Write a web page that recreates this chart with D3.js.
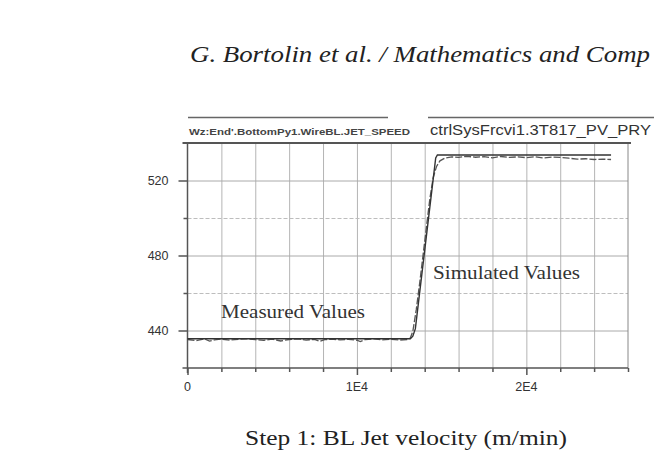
<!DOCTYPE html>
<html>
<head>
<meta charset="utf-8">
<script src="https://cdn.jsdelivr.net/npm/d3@7"></script>
<style>
  body { margin: 0; background: #fff; }
  svg { display: block; }
</style>
</head>
<body>
<div id="chart"></div>
<script>
const WIDTH = 654;
const HEIGHT = 469;
const MARGIN = { top: 143, left: 187.5, right: 26, bottom: 101 };
const PLOT_W = WIDTH - MARGIN.left - MARGIN.right;
const PLOT_H = HEIGHT - MARGIN.top - MARGIN.bottom;

const X_DOMAIN = [0, 26000];
const Y_DOMAIN = [420, 540];
const X_GRID = d3.range(0, 26001, 2000);
const X_LABELS = [0, 10000, 20000];
const X_TICK_TEXT = ['0', '1E4', '2E4'];
const Y_GRID = [440, 460, 480, 500, 520];
const Y_LABELS = [440, 480, 520];

const PAGE_HEADER = 'G. Bortolin et al. / Mathematics and Comp';
const SERIES_NAMES = ["Wz:End'.BottomPy1.WireBL.JET_SPEED", 'ctrlSysFrcvi1.3T817_PV_PRY'];
const CAPTION = 'Step 1: BL Jet velocity (m/min)';

// simulated (solid) trace
const SIM_T = [0, 13150, 13300, 13450, 14650, 14750, 25000];
const SIM_V = [435.6, 435.6, 437, 441, 532, 533.6, 533.6];

// measured (dashed) trace
const MEAS_T = [0, 500, 1000, 1300, 1600, 2000, 2500, 3000, 3500, 4000, 4500, 5000, 5500,
  6000, 6500, 7000, 7500, 7800, 8100, 8500, 9000, 9500, 10000, 10200, 10500, 11000, 11500,
  12000, 12500, 13000, 13150, 13300, 13500, 13700, 13900, 14100, 14300, 14500, 14700, 14900,
  15200, 15600, 16000, 16500, 17000, 17500, 18000, 18500, 19000, 19500, 20000, 20500, 21000,
  21500, 22000, 22500, 23000, 23500, 24000, 24500, 25000];
const MEAS_V = [435.2, 434.6, 435.5, 434.3, 435.0, 435.4, 434.9, 435.3, 435.6, 435.1, 434.7, 435.4, 434.4,
  435.2, 435.5, 434.9, 435.3, 434.2, 435.1, 435.4, 435.0, 435.3, 434.8, 434.1, 435.2, 435.5, 435.0,
  435.3, 434.9, 435.2, 436.0, 439.5, 451, 465, 480, 495, 510, 521.5, 527.5, 530.5,
  532.0, 532.6, 532.3, 532.9, 532.4, 532.7, 532.1, 532.8, 532.3, 532.6, 532.2, 532.7, 532.0,
  532.5, 532.3, 531.9, 531.4, 531.6, 531.2, 531.4, 531.2];

const SANS = 'Liberation Sans, Arial, sans-serif';
const SERIF = 'Liberation Serif, DejaVu Serif, serif';

const svg = d3.select('#chart')
  .append('svg')
    .attr('width', WIDTH)
    .attr('height', HEIGHT);

svg.append('rect').attr('width', WIDTH).attr('height', HEIGHT).attr('fill', '#fff');

// page running header
svg.append('text')
  .attr('x', 190)
  .attr('y', 62)
  .attr('font-family', SERIF)
  .attr('font-style', 'italic')
  .attr('font-size', 23.5)
  .attr('fill', '#222')
  .attr('textLength', 460)
  .attr('lengthAdjust', 'spacingAndGlyphs')
  .text(PAGE_HEADER);

// series name headers
svg.append('line').attr('x1', 188).attr('x2', 388).attr('y1', 117.5).attr('y2', 117.5)
  .attr('stroke', '#666').attr('stroke-width', 1.5);
svg.append('line').attr('x1', 428).attr('x2', 654).attr('y1', 117.5).attr('y2', 117.5)
  .attr('stroke', '#666').attr('stroke-width', 1.5);

svg.append('text')
  .attr('x', 189)
  .attr('y', 134.5)
  .attr('font-family', SANS)
  .attr('font-size', 9.5)
  .attr('font-weight', 'bold')
  .attr('fill', '#444')
  .attr('textLength', 221)
  .attr('lengthAdjust', 'spacingAndGlyphs')
  .text(SERIES_NAMES[0]);

svg.append('text')
  .attr('x', 430)
  .attr('y', 135)
  .attr('font-family', SANS)
  .attr('font-size', 14)
  .attr('fill', '#333')
  .attr('textLength', 221)
  .attr('lengthAdjust', 'spacingAndGlyphs')
  .text(SERIES_NAMES[1]);

const g = svg.append('g')
  .attr('transform', `translate(${MARGIN.left}, ${MARGIN.top})`);

const x = d3.scaleLinear().domain(X_DOMAIN).range([0, PLOT_W]);
const y = d3.scaleLinear().domain(Y_DOMAIN).range([PLOT_H, 0]);

// grid
const xGrid = g.append('g')
  .attr('class', 'x-grid')
  .attr('transform', `translate(0, ${PLOT_H})`)
  .call(d3.axisBottom(x).tickValues(X_GRID.slice(1, -1)).tickSize(-PLOT_H).tickFormat(''));
xGrid.select('.domain').remove();
xGrid.selectAll('.tick line')
  .attr('stroke', '#b4b4b4')
  .attr('stroke-width', 1);

const yGrid = g.append('g')
  .attr('class', 'y-grid')
  .call(d3.axisLeft(y).tickValues(Y_GRID).tickSize(-PLOT_W).tickFormat(''));
yGrid.select('.domain').remove();
yGrid.selectAll('.tick line')
  .attr('stroke', d => Y_LABELS.includes(d) ? '#aaaaaa' : '#bdbdbd')
  .attr('stroke-dasharray', d => Y_LABELS.includes(d) ? null : '4,2')
  .attr('stroke-width', 1);

// frame
g.append('line').attr('x1', PLOT_W).attr('x2', PLOT_W).attr('y1', 0).attr('y2', PLOT_H)
  .attr('stroke', '#888').attr('stroke-width', 1);
g.append('line').attr('x1', -5).attr('x2', PLOT_W + 3).attr('y1', 0).attr('y2', 0)
  .attr('stroke', '#555').attr('stroke-width', 2);

// axes
const xAxis = g.append('g')
  .attr('class', 'x-axis')
  .attr('transform', `translate(0, ${PLOT_H})`)
  .call(d3.axisBottom(x).tickValues(X_GRID).tickSize(4).tickFormat(''));
xAxis.selectAll('.tick line')
  .attr('y2', d => X_LABELS.includes(d) ? 7 : 4);
xAxis.select('.domain').attr('d', `M-5,0H${PLOT_W}`);

xAxis.selectAll('.lbl')
  .data(X_LABELS)
  .enter().append('text')
    .attr('class', 'lbl')
    .attr('x', d => x(d))
    .attr('y', 23)
    .attr('text-anchor', 'middle')
    .attr('font-family', SANS)
    .attr('font-size', 12.5)
    .attr('fill', '#333')
    .text((d, i) => X_TICK_TEXT[i]);

const yAxis = g.append('g')
  .attr('class', 'y-axis')
  .call(d3.axisLeft(y).tickValues(Y_GRID).tickSize(5).tickFormat(d => Y_LABELS.includes(d) ? d : ''));
yAxis.selectAll('.tick line')
  .attr('x2', d => Y_LABELS.includes(d) ? -9 : -4);
yAxis.selectAll('.tick text')
  .attr('x', -19)
  .attr('font-family', SANS)
  .attr('font-size', 12.5)
  .attr('fill', '#333');
yAxis.select('.domain').attr('d', `M0,0V${PLOT_H + 5}`);

g.selectAll('.x-axis .domain, .x-axis .tick line, .y-axis .domain, .y-axis .tick line')
  .attr('stroke', '#555')
  .attr('stroke-width', 1.5);

// traces
const line = d3.line()
  .x(d => x(d[0]))
  .y(d => y(d[1]));

g.append('path')
  .datum(MEAS_T.map((t, i) => [t, MEAS_V[i]]))
  .attr('d', line)
  .attr('fill', 'none')
  .attr('stroke', '#555')
  .attr('stroke-width', 1.3)
  .attr('stroke-dasharray', '7,2');

g.append('path')
  .datum(SIM_T.map((t, i) => [t, SIM_V[i]]))
  .attr('d', line)
  .attr('fill', 'none')
  .attr('stroke', '#333')
  .attr('stroke-width', 1.4);

// annotations
svg.append('text')
  .attr('x', 221)
  .attr('y', 318)
  .attr('font-family', SERIF)
  .attr('font-size', 18)
  .attr('fill', '#333')
  .attr('textLength', 144)
  .attr('lengthAdjust', 'spacingAndGlyphs')
  .text('Measured Values');

svg.append('text')
  .attr('x', 433)
  .attr('y', 279)
  .attr('font-family', SERIF)
  .attr('font-size', 18)
  .attr('fill', '#333')
  .attr('textLength', 147)
  .attr('lengthAdjust', 'spacingAndGlyphs')
  .text('Simulated Values');

svg.append('text')
  .attr('x', 245)
  .attr('y', 445)
  .attr('font-family', SERIF)
  .attr('font-size', 22)
  .attr('fill', '#222')
  .attr('textLength', 322)
  .attr('lengthAdjust', 'spacingAndGlyphs')
  .text(CAPTION);
</script>
</body>
</html>
